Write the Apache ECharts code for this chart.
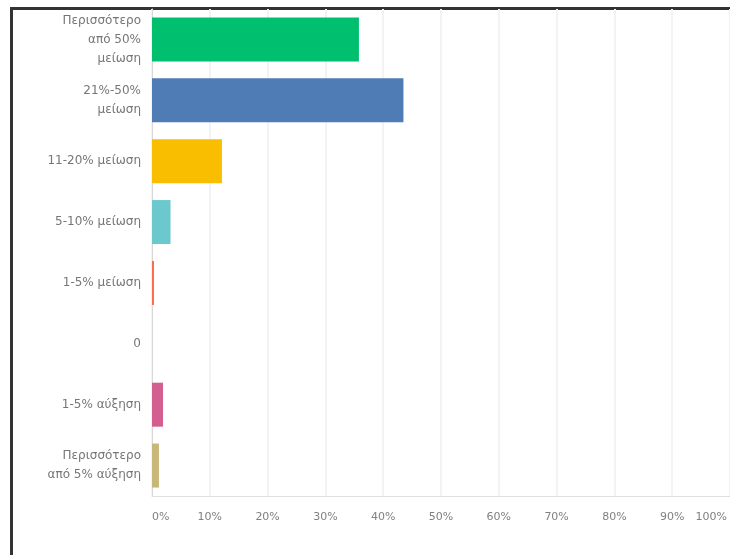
<!DOCTYPE html>
<html>
<head>
<meta charset="utf-8">
<script src="https://cdn.jsdelivr.net/npm/echarts@6/dist/echarts.min.js"></script>
<style>
  html, body { margin: 0; padding: 0; background: #ffffff; overflow: hidden; width: 730px; height: 555px; }
  #frame { position: absolute; left: 10px; top: 7px; width: 720px; height: 548px;
           border-left: 3px solid #333; border-top: 3px solid #333; box-sizing: border-box; }
  #chart { position: absolute; left: 0; top: 0; width: 730px; height: 555px; }
</style>
</head>
<body>
<div id="frame"></div>
<div id="chart"></div>
<script>
const categories = [
  'Περισσότερο\nαπό 50%\nμείωση',
  '21%-50%\nμείωση',
  '11-20% μείωση',
  '5-10% μείωση',
  '1-5% μείωση',
  '0',
  '1-5% αύξηση',
  'Περισσότερο\nαπό 5% αύξηση'
];
const values = [35.8, 43.5, 12.1, 3.2, 0.35, 0, 1.9, 1.2];
const barColors = ['#00BF6F', '#507CB6', '#F9BE00', '#6BC8CD', '#FF6B4F', '#7D5E90', '#D25F90', '#C7B879'];

const chart = echarts.init(document.getElementById('chart'), null, { renderer: 'canvas' });
chart.setOption({
  animation: false,
  backgroundColor: 'transparent',
  grid: { left: 152, top: 9, width: 583, height: 487, containLabel: false },
  xAxis: {
    type: 'value',
    min: 0,
    max: 100,
    interval: 10,
    axisLine: { show: true, lineStyle: { color: '#e0e0e0', width: 1 } },
    axisTick: { show: false },
    splitLine: { show: true, lineStyle: { color: '#f3f3f3', width: 2 } },
    axisLabel: {
      margin: 16,
      color: '#808080',
      fontSize: 11,
      fontFamily: 'DejaVu Sans',
      alignMinLabel: 'left',
      alignMaxLabel: 'right',
      formatter: function (v) { return v === 100 ? '{m|100%}' : v + '%'; },
      rich: { m: { color: '#808080', fontSize: 11, fontFamily: 'DejaVu Sans', padding: [0, 3, 0, 0] } }
    }
  },
  yAxis: {
    type: 'category',
    inverse: true,
    data: categories,
    axisLine: { show: true, lineStyle: { color: '#d8d8d8', width: 1 } },
    axisTick: { show: false },
    splitLine: { show: false },
    axisLabel: {
      margin: 11,
      color: '#767676',
      fontSize: 12,
      lineHeight: 19,
      fontFamily: 'DejaVu Sans',
      align: 'right'
    }
  },
  series: [{
    type: 'bar',
    barWidth: 44,
    data: values.map((v, i) => ({ value: v, itemStyle: { color: barColors[i] } }))
  }]
});
</script>
</body>
</html>
